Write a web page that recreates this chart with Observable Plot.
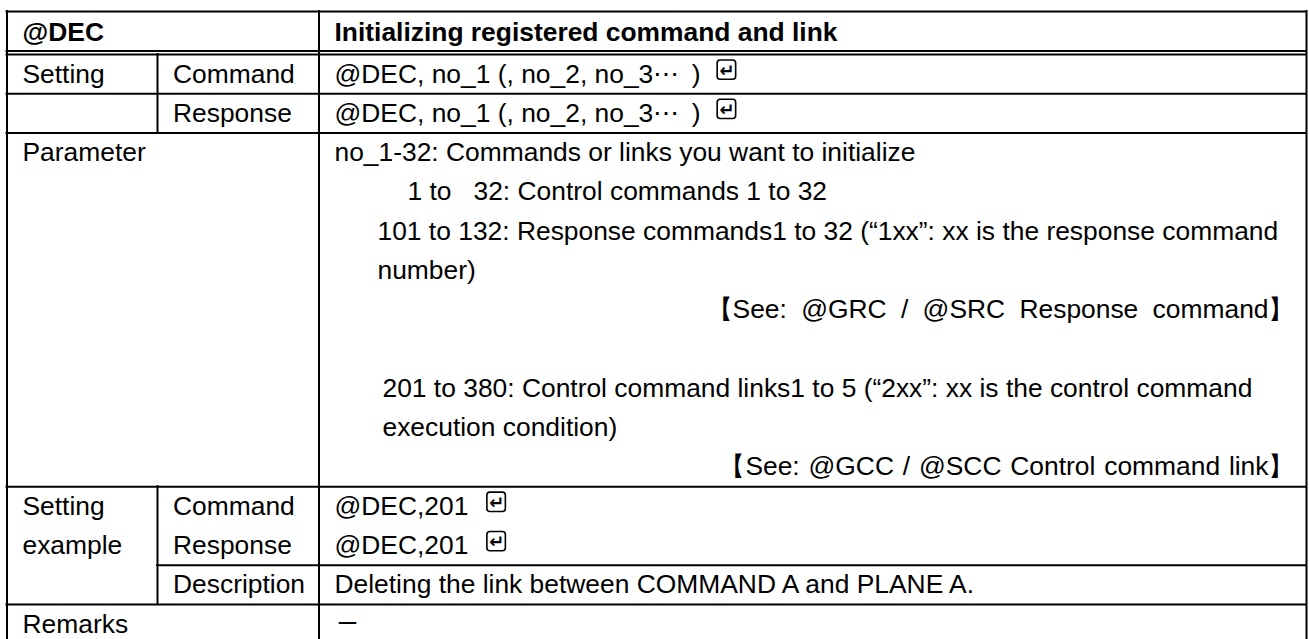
<!DOCTYPE html>
<html><head><meta charset="utf-8">
<script src="https://cdn.jsdelivr.net/npm/d3@7"></script>
<script src="https://cdn.jsdelivr.net/npm/@observablehq/plot@0.6"></script>
<style>html,body{margin:0;padding:0;background:#fff;overflow:hidden}</style>
</head><body><div id="chart"></div>
<script>
// ---------- data ----------
const headerCode = "@DEC";
const headerTitle = "Initializing registered command and link";
const settingLabel = "Setting";
const settingKeys = ["Command", "Response"];
const settingValues = ["@DEC, no_1 (, no_2, no_3\u22EF\u00a0\u2009)", "@DEC, no_1 (, no_2, no_3\u22EF\u00a0\u2009)"];
const parameterLabel = "Parameter";
const parameterLines = [
  "no_1-32: Commands or links you want to initialize",
  "1 to\u00a0\u00a0\u00a032: Control commands 1 to 32",
  "101 to 132: Response commands1 to 32 (\u201C1xx\u201D: xx is the response command",
  "number)",
  "\u3010See: @GRC / @SRC Response command\u3011",
  "",
  "201 to 380: Control command links1 to 5 (\u201C2xx\u201D: xx is the control command",
  "execution condition)",
  "\u3010See: @GCC / @SCC Control command link\u3011"
];
const exampleLabelLines = ["Setting", "example"];
const exampleKeys = ["Command", "Response", "Description"];
const exampleValues = ["@DEC,201", "@DEC,201", "Deleting the link between COMMAND A and PLANE A."];
const exampleHasEnter = [true, true, false];
const remarksLabel = "Remarks";
const remarksValue = "\u30FC";

// ---------- layout ----------
const W = 1309, H = 639;
const FONT = "'Liberation Sans', Arial, Helvetica, sans-serif";
const FS = 26.4;
const colEdges = [6.5, 157, 318.5, 1306];
const pad = 15.5;
const paramIndent = [0, 73, 43, 43, null, 0, 48, 48, null]; // null = right aligned
const paramWordSpacing = [0, 0, 0, 0, 7, 0, 0, 0, 1.5];
const rightPad = 12;

const ctx = document.createElement("canvas").getContext("2d");
function measure(t, weight) { ctx.font = `${weight || "normal"} ${FS}px ${FONT}`; return ctx.measureText(t).width; }

const colX = c => colEdges[c] + pad;

const bold = [
  {x: colX(0), u: 0.5, t: headerCode},
  {x: colX(2), u: 0.5, t: headerTitle}
];
const normal = [];
const rightTexts = [];
const icons = [];
normal.push({x: colX(0), u: 1.5, t: settingLabel});
settingKeys.forEach((k, i) => {
  normal.push({x: colX(1), u: 1.5 + i, t: k});
  normal.push({x: colX(2), u: 1.5 + i, t: settingValues[i]});
  icons.push({x1: colX(2) + measure(settingValues[i]) + 17, u: 1.5 + i});
});
normal.push({x: colX(0), u: 3.5, t: parameterLabel});
parameterLines.forEach((t, i) => {
  if (!t) return;
  if (paramIndent[i] === null) rightTexts.push({x: colEdges[3] - rightPad, u: 3.5 + i, t, ws: paramWordSpacing[i]});
  else normal.push({x: colX(2) + paramIndent[i], u: 3.5 + i, t});
});
exampleLabelLines.forEach((t, i) => normal.push({x: colX(0), u: 12.5 + i, t}));
exampleKeys.forEach((k, i) => {
  normal.push({x: colX(1), u: 12.5 + i, t: k});
  normal.push({x: colX(2), u: 12.5 + i, t: exampleValues[i]});
  if (exampleHasEnter[i]) icons.push({x1: colX(2) + measure(exampleValues[i]) + 19, u: 12.5 + i});
});
normal.push({x: colX(0), u: 15.5, t: remarksLabel});
const dash = [{x: colX(2) + 2, u: 15.5, t: remarksValue}];

const hLines = [
  {u: 0, a: 0, b: 3}, {u: 1, a: 0, b: 3}, {u: 2, a: 0, b: 3}, {u: 3, a: 0, b: 3},
  {u: 12, a: 0, b: 3}, {u: 14, a: 1, b: 3}, {u: 15, a: 0, b: 3}, {u: 16, a: 0, b: 3}
];
const hDouble = [{u: 1, a: 0, b: 3}];
const vLines = [
  {c: 0, u1: 0, u2: 16}, {c: 1, u1: 1, u2: 3}, {c: 1, u1: 12, u2: 15},
  {c: 2, u1: 0, u2: 16}, {c: 3, u1: 0, u2: 16}
];

const plot = Plot.plot({
  width: W, height: H, margin: 0,
  x: {type: "linear", domain: [0, W], range: [0, W], axis: null},
  y: {type: "linear", domain: [0, 1, 16], range: [11, 54, 643.3], axis: null},
  style: {background: "#fff", color: "#000"},
  marks: [
    Plot.ruleY(hLines, {y: "u", x1: d => colEdges[d.a], x2: d => colEdges[d.b], stroke: "#000", strokeWidth: 2, strokeLinecap: "square"}),
    Plot.ruleY(hDouble, {y: "u", x1: d => colEdges[d.a], x2: d => colEdges[d.b], dy: -3.5, stroke: "#000", strokeWidth: 2, strokeLinecap: "square"}),
    Plot.ruleX(vLines, {x: d => colEdges[d.c], y1: "u1", y2: "u2", stroke: "#000", strokeWidth: 2, strokeLinecap: "square"}),
    Plot.text(bold, {x: "x", y: "u", text: "t", textAnchor: "start", lineAnchor: "middle", fontSize: FS, fontFamily: FONT, fontWeight: "bold", fill: "#000"}),
    Plot.text(normal, {x: "x", y: "u", text: "t", textAnchor: "start", lineAnchor: "middle", fontSize: FS, fontFamily: FONT, fill: "#000"}),
    Plot.text(dash, {x: "x", y: "u", text: "t", textAnchor: "start", lineAnchor: "middle", fontSize: 22, fontFamily: "'Noto Sans CJK JP'", fill: "#000"}),
    Plot.text(rightTexts, {x: "x", y: "u", text: "t", textAnchor: "end", lineAnchor: "middle", fontSize: FS, fontFamily: FONT, fill: "#000"}),
    Plot.rect(icons, {x1: "x1", x2: d => d.x1 + 18.5, y1: d => d.u - 0.5, y2: d => d.u + 0.5, insetTop: 6, insetBottom: 14, rx: 3, fill: "none", stroke: "#000", strokeWidth: 1.6}),
    Plot.text(icons, {x: d => d.x1 + 9.5, y: "u", text: () => "\u21B5", textAnchor: "middle", lineAnchor: "middle", dy: -3, fontSize: 18, fontFamily: "DejaVu Sans", fontWeight: "bold", fill: "#000"})
  ]
});
const wsByText = new Map(rightTexts.map(d => [d.t, d.ws]));
d3.select(plot).selectAll("text").each(function() {
  const ws = wsByText.get(this.textContent);
  if (ws) d3.select(this).style("word-spacing", ws + "px");
});
document.getElementById("chart").appendChild(plot);
</script>
</body></html>
